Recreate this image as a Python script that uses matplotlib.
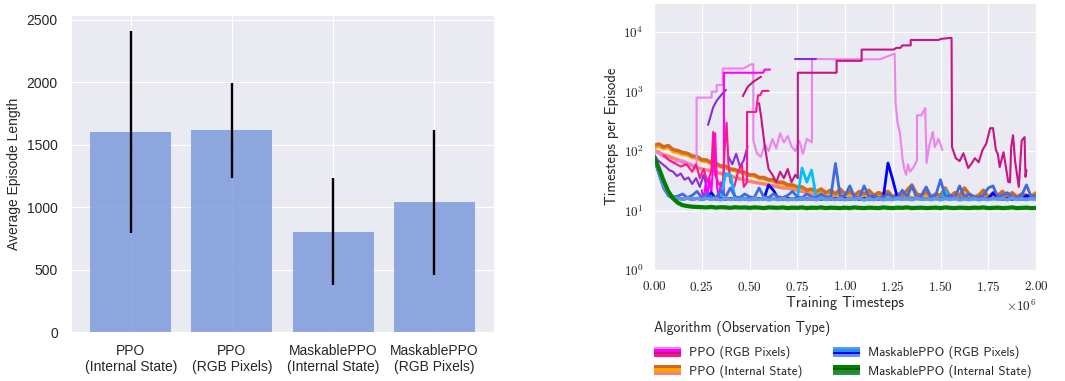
import numpy as np
import matplotlib.pyplot as plt
import seaborn as sns
from matplotlib.legend_handler import HandlerBase
from matplotlib.patches import Rectangle
from matplotlib.ticker import FuncFormatter, FixedLocator, NullLocator

# =========================================================
# LEFT PANEL DATA : AVERAGE EPISODE LENGTH
# =========================================================

bar_labels = [
    "PPO\n(Internal State)",
    "PPO\n(RGB Pixels)",
    "MaskablePPO\n(Internal State)",
    "MaskablePPO\n(RGB Pixels)",
]
bar_means = [1600, 1615, 805, 1040]
bar_errs = [810, 383, 428, 580]

# =========================================================
# RIGHT PANEL DATA : TIMESTEPS PER EPISODE (x in 1e6 steps)
# =========================================================

# common grid for the dense runs, 0 .. 2.0 in 0.025 steps (81 points)
grid = np.linspace(0.0, 2.0, 81)

# MaskablePPO (Internal State)
green = [
    82, 52, 32, 21, 16, 13.5, 12.3, 11.9, 11.6, 11.5,
    11.4, 11.3, 11.5, 11.2, 11.4, 11.3, 11.1, 11.4, 11.2, 11.3,
    11.1, 11.3, 11.2, 11.0, 11.3, 11.2, 11.1, 11.3, 11.0, 11.2,
    11.1, 11.3, 11.0, 11.2, 11.1, 11.3, 11.0, 11.2, 11.1, 11.0,
    11.2, 11.0, 11.3, 11.1, 11.0, 11.2, 11.1, 11.0, 11.3, 11.1,
    11.0, 11.2, 11.1, 11.3, 11.0, 11.1, 11.2, 11.0, 11.1, 11.2,
    11.0, 11.3, 11.1, 11.0, 11.2, 11.1, 11.0, 11.2, 11.1, 11.3,
    11.0, 11.1, 11.2, 11.0, 11.1, 11.3, 11.0, 11.1, 11.2, 11.0,
    11.1,
]

# MaskablePPO (RGB Pixels)
cornflower = [
    80, 48, 27, 19, 16.5, 16, 15.5, 16.2, 15.4, 16,
    15.3, 16.1, 15.5, 15.9, 15.2, 16.3, 15.4, 15.8, 15.3, 16,
    15.2, 15.9, 15.4, 16.2, 15.1, 15.8, 15.3, 16, 15.2, 15.7,
    15.3, 16.1, 15.5, 15.9, 15.2, 16.3, 15.4, 15.8, 15.3, 16,
    15.2, 15.9, 15.4, 16.2, 15.1, 15.8, 15.3, 16, 15.2, 15.7,
    15.3, 16.1, 15.5, 15.9, 15.2, 16.3, 15.4, 15.8, 15.3, 16,
    15.2, 15.9, 15.4, 16.2, 15.1, 15.8, 15.3, 16, 15.2, 15.7,
    15.3, 16.1, 15.5, 15.9, 15.2, 16.3, 15.4, 15.8, 15.3, 16,
    15.5,
]
royal = [
    76, 42, 24, 18, 17, 17.5, 19, 16.5, 18, 21,
    16.5, 19, 17, 16.5, 22, 17, 24, 17, 16.5, 19,
    17, 16.5, 24, 17, 16.5, 19, 17, 16.5, 18, 21,
    17, 16.5, 19, 17, 16.5, 19, 17, 16.5, 62, 17,
    18, 26, 17, 16.5, 26, 17, 18, 16.5, 17, 19,
    17, 16.5, 22, 17, 26, 16.5, 18, 25, 17, 18,
    33, 17, 18, 16.5, 26, 17, 19, 17, 16.5, 18,
    24, 26, 17, 18, 20, 17, 16.5, 18, 27, 17,
    18,
]
blue = [
    78, 44, 25, 18, 16, 16, 15.5, 16, 15.5, 16,
    15.5, 16, 20, 15.5, 16, 15.5, 16, 15.5, 16, 15.5,
    16, 15.5, 16, 15.5, 27, 22, 16, 15.5, 16, 15.5,
    16, 15.5, 16, 15.5, 16, 15.5, 16, 15.5, 16, 15.5,
    16, 15.5, 16, 15.5, 16, 15.5, 16, 15.5, 16, 63,
    33, 16, 15.5, 16, 15.5, 16, 15.5, 16, 15.5, 16,
    15.5, 16, 15.5, 16, 15.5, 16, 15.5, 16, 15.5, 16,
    15.5, 20, 16, 15.5, 16, 15.5, 16, 15.5, 18, 16,
    15.5,
]
skyblue = [
    80, 46, 26, 18, 16, 16, 15.5, 16, 15.5, 16,
    15.5, 16, 15.5, 16, 15.5, 42, 40, 16, 15.5, 16,
    15.5, 16, 15.5, 16, 15.5, 16, 15.5, 16, 15.5, 16,
    15.5, 52, 30, 48, 16, 15.5, 16, 15.5, 16, 15.5,
    16, 15.5, 16, 15.5, 16, 15.5, 16, 15.5, 16, 15.5,
    16, 15.5, 16, 15.5, 16, 15.5, 16, 15.5, 16, 15.5,
    16, 22, 16, 15.5, 16, 15.5, 16, 15.5, 16, 15.5,
    16, 15.5, 16, 15.5, 16, 15.5, 16, 15.5, 16, 15.5,
    16,
]

# PPO (Internal State)
chocolate = [
    125, 132, 118, 124, 106, 102, 95, 92, 83, 81,
    72, 71, 64, 62, 56, 56, 50, 49, 45, 44,
    40, 40, 36, 36, 33, 33, 30, 30, 27, 27,
    25, 25, 22, 23, 21, 23, 20, 22, 19, 23,
    19, 21, 18, 21, 19, 22, 18, 20, 19, 21,
    17, 19, 18, 22, 27, 19, 18, 21, 17, 19,
    18, 24, 17, 20, 18, 24, 19, 17, 18, 22,
    17, 19, 18, 21, 17, 20, 17, 19, 18, 17,
    19,
]
orange = [
    112, 122, 110, 116, 98, 95, 88, 86, 78, 76,
    68, 67, 61, 60, 54, 53, 48, 47, 44, 42,
    39, 38, 35, 34, 32, 31, 29, 28, 26, 26,
    24, 24, 22, 22, 20, 21, 19, 20, 18, 19,
    18, 19, 17, 18, 17, 19, 17, 18, 17, 18,
    16, 18, 17, 19, 16, 18, 17, 18, 16, 17,
    17, 20, 16, 18, 17, 19, 16, 17, 17, 18,
    16, 17, 17, 18, 16, 17, 16, 18, 17, 18,
    20,
]
salmon = [
    100, 96, 86, 82, 76, 71, 66, 61, 57, 53,
    50, 48, 46, 44, 42, 40, 38, 36, 34, 33,
    31, 30, 29, 28, 27, 26, 25, 24, 24, 23,
    22, 21, 20, 19, 19, 18, 18, 17, 17, 17,
    16, 17, 16, 17, 16, 17, 16, 17, 16, 17,
    16, 17, 16, 17, 16, 17, 16, 17, 16, 17,
    16, 17, 16, 17, 16, 17, 16, 17, 16, 17,
    16, 17, 16, 17, 16, 17, 16, 17, 16, 17,
    16,
]

# PPO (RGB Pixels) : individual runs, nan = gap in the log
nan = np.nan

violet_x = [0.00, 0.05, 0.10, 0.15, 0.20, 0.223, 0.223, 0.302, 0.302, 0.328,
            0.328, 0.36, 0.36, 0.467, 0.51, 0.52, 0.52, 0.54, 0.56, 0.58,
            0.60, 0.62, 0.64, 0.66, 0.68, 0.70, 0.72, 0.74, 0.76, 0.78,
            0.80, 0.827, 0.827, 1.0, 1.183, 1.26, 1.265, 1.275, 1.288, 1.30,
            1.31, 1.32, 1.33, 1.34, 1.36, 1.377, 1.377, 1.40, 1.42, 1.427,
            1.44, 1.46, 1.47, 1.49, 1.51]
violet_y = [100, 80, 65, 70, 60, 55, 795, 795, 1000, 1000,
            1290, 1290, 2450, 2450, 2900, 2900, 150, 90, 80, 130,
            100, 160, 110, 200, 140, 180, 120, 100, 150, 90,
            160, 140, 3550, 3500, 3500, 4370, 640, 300, 200, 80,
            50, 40, 60, 45, 54, 70, 400, 400, 530, 63,
            120, 210, 117, 160, 104]

bviolet_x = [0.00, 0.02, 0.04, 0.06, 0.08, 0.10, 0.12, 0.14, 0.16, 0.18,
             0.20, 0.22, 0.24, 0.26, 0.28, 0.282, 0.283, 0.31, 0.33, 0.355,
             0.377, 0.38, 0.39, 0.41, 0.43, 0.45, 0.47, 0.49, 0.6, 0.738,
             0.848]
bviolet_y = [88, 70, 62, 55, 48, 45, 38, 42, 33, 36,
             28, 35, 25, 40, 22, nan, 275, 550, 720, 900,
             1070, nan, 80, 60, 90, 55, 70, 120, nan, 3540,
             3540]

magenta_x = [0.25, 0.26, 0.27, 0.28, 0.29, 0.30, 0.31, 0.32, 0.33, 0.34,
             0.35, 0.366, 0.366, 0.571, 0.58, 0.607]
magenta_y = [22, 15, 28, 17, 35, 20, 60, 200, 25, 16,
             30, 20, 2080, 2080, 2350, 2350]

dpink_x = [0.05, 0.08, 0.11, 0.14, 0.17, 0.20, 0.22, 0.24, 0.26, 0.28,
           0.30, 0.31, 0.32, 0.34, 0.36, 0.37, 0.38, 0.39, 0.40, 0.42,
           0.44, 0.46, 0.47, 0.487, 0.487, 0.534, 0.545, 0.556, 0.567, 0.6]
dpink_y = [85, 70, 62, 55, 60, 45, 60, 35, 50, 30,
           45, 210, 40, 28, 25, 110, 300, 60, 30, 25,
           45, 60, 25, 30, 456, 456, 870, 870, 1030, 1030]

mvred_x = [0.465, 0.49, 0.52, 0.56, 0.555,
           0.55, 0.56, 0.58, 0.60, 0.62, 0.64, 0.66, 0.68, 0.70, 0.72,
           0.74, 0.753, 0.753, 0.956, 0.956, 1.087, 1.087, 1.253, 1.27, 1.29,
           1.30, 1.344, 1.344, 1.49, 1.50, 1.55, 1.558, 1.56, 1.58, 1.60,
           1.62, 1.645, 1.66, 1.68, 1.70, 1.72, 1.74, 1.76, 1.775, 1.79,
           1.80, 1.81, 1.83, 1.84, 1.855, 1.864, 1.87, 1.88, 1.89, 1.91,
           1.925, 1.94, 1.945, 1.95]
mvred_y = [840, 1200, 1470, 1780, nan,
           640, 400, 120, 50, 40, 30, 45, 35, 50, 30,
           40, 35, 2080, 2080, 3300, 3300, 5100, 5100, 5450, 5450,
           6000, 6000, 7400, 7400, 7700, 8000, 8000, 118, 76, 68,
           92, 52, 60, 76, 65, 104, 135, 243, 243, 104,
           90, 54, 96, 60, 30, 30, 118, 185, 70, 25,
           150, 172, 37, 48]

legend_labels = [
    "PPO (RGB Pixels)",
    "PPO (Internal State)",
    "MaskablePPO (RGB Pixels)",
    "MaskablePPO (Internal State)",
]
legend_colors = [
    ["violet", "magenta", "mediumvioletred", "deeppink"],
    ["chocolate", "orange", "salmon"],
    ["cornflowerblue", "dodgerblue", "blue", "cornflowerblue"],
    ["green", "darkgreen", "forestgreen", "seagreen"],
]


# =========================================================
# LEGEND HANDLE : STACKED COLOUR STRIPES
# =========================================================

class Stripes:
    def __init__(self, colors):
        self.colors = colors


class StripeHandler(HandlerBase):
    def create_artists(self, legend, orig_handle, xdescent, ydescent,
                       width, height, fontsize, trans):
        n = len(orig_handle.colors)
        h = height / n
        out = []
        for i, c in enumerate(orig_handle.colors):
            out.append(Rectangle((-xdescent, -ydescent + height - (i + 1) * h),
                                 width, h, facecolor=c, edgecolor="none",
                                 transform=trans))
        return out


# =========================================================
# FIGURE
# =========================================================

sns.set_style("darkgrid")
plt.rcParams["font.family"] = ["Liberation Sans", "DejaVu Sans"]
plt.rcParams["mathtext.fontset"] = "cm"

fig = plt.figure(figsize=(10.65, 3.81), dpi=100)

# ---------------- left : bars ----------------
ax1 = fig.add_axes([71 / 1065, 49 / 381, 423 / 1065, 317 / 381])

xpos = np.arange(len(bar_means))
ax1.bar(xpos, bar_means, width=0.8, color="#7696D9", alpha=0.8, linewidth=0,
        yerr=bar_errs,
        error_kw=dict(ecolor="black", elinewidth=1.7, capsize=0))
ax1.set_xticks(xpos)
ax1.set_xticklabels(bar_labels, fontsize=10)
ax1.set_ylim(0, 2540)
ax1.set_yticks([0, 500, 1000, 1500, 2000, 2500])
ax1.tick_params(axis="y", labelsize=10, pad=6)
ax1.tick_params(axis="x", pad=5)
ax1.set_ylabel("Average Episode Length", fontsize=10)

# ---------------- right : training curves ----------------
ax2 = fig.add_axes([654 / 1065, 111 / 381, 382 / 1065, 267 / 381])

def curve(x, y, color, lw=1.5):
    ax2.plot(np.asarray(x) * 1e6, y, color=color, linewidth=lw)

curve(grid, salmon, "salmon", 2.5)
curve(grid, orange, "orange", 2.5)
curve(grid, chocolate, "chocolate", 2.5)

curve(violet_x, violet_y, "violet")
curve(bviolet_x, bviolet_y, "blueviolet")
curve(magenta_x, magenta_y, "magenta")
curve(dpink_x, dpink_y, "deeppink")
curve(mvred_x, mvred_y, "mediumvioletred")

curve(grid, skyblue, "deepskyblue", 2.0)
curve(grid, blue, "blue", 2.0)
curve(grid, royal, "royalblue", 2.0)
curve(grid, cornflower, "cornflowerblue", 2.6)

curve(grid, green, "green", 3.0)

ax2.set_yscale("log")
ax2.set_ylim(1, 3.1e4)
ax2.set_xlim(0, 2.0e6)
ax2.yaxis.set_major_locator(FixedLocator([1, 10, 100, 1000, 10000]))
ax2.yaxis.set_minor_locator(NullLocator())
ax2.yaxis.set_major_formatter(
    FuncFormatter(lambda v, p: rf"$10^{{{int(round(np.log10(v)))}}}$"))
ax2.xaxis.set_major_locator(FixedLocator(np.arange(0, 2.01e6, 0.25e6)))
ax2.xaxis.set_major_formatter(FuncFormatter(lambda v, p: rf"${v / 1e6:.2f}$"))
ax2.tick_params(axis="both", labelsize=9.5, pad=4, labelcolor="#222222")

ax2.set_xlabel("Training Timesteps", fontfamily="cmss10", fontsize=10.5,
               labelpad=1)
ax2.set_ylabel("Timesteps per Episode", fontfamily="cmss10", fontsize=10.5,
               labelpad=3)
ax2.text(1.0, -0.108, r"$\times 10^{6}$", transform=ax2.transAxes,
         ha="right", va="top", fontsize=9.5, color="#222222")

handles = [Stripes(c) for c in legend_colors]
leg = fig.legend(handles, legend_labels, handler_map={Stripes: StripeHandler()},
                 loc="upper left", bbox_to_anchor=(654 / 1065, 60 / 381),
                 ncol=2, frameon=False, borderpad=0, borderaxespad=0,
                 handlelength=2.1, handleheight=0.8, handletextpad=0.6,
                 columnspacing=2.4, labelspacing=0.4,
                 title="Algorithm (Observation Type)", alignment="left",
                 prop={"family": "cmss10", "size": 9.3},
                 title_fontproperties={"family": "cmss10", "size": 10})
leg._legend_box.sep = 7.5

fig.savefig("out.png", dpi=100)
